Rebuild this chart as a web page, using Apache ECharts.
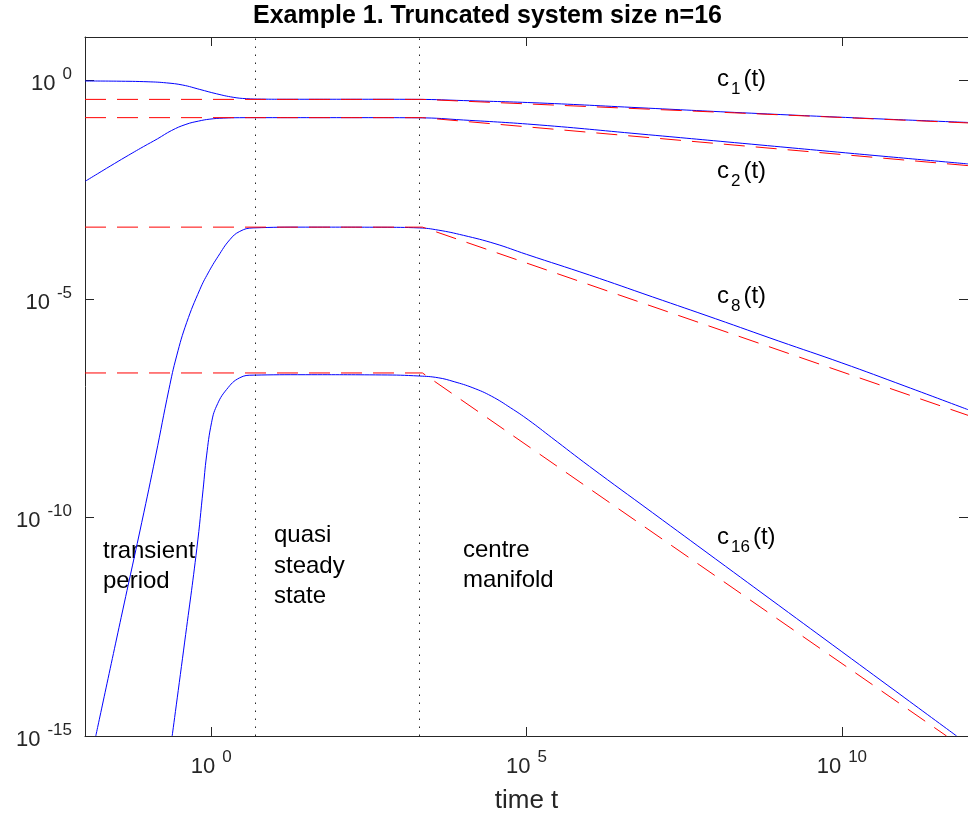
<!DOCTYPE html>
<html>
<head>
<meta charset="utf-8">
<script src="https://cdn.jsdelivr.net/npm/echarts@6/dist/echarts.min.js"></script>
<style>
html,body{margin:0;padding:0;background:#fff;}
#chart{width:968px;height:819px;}
</style>
</head>
<body>
<div id="chart"></div>
<script>
// ---- Data: pairs of [log10(t), log10(c)] ----
const c1Solid = [[-2.0,-0.007],[-1.5,-0.011],[-1.0,-0.025],[-0.71,-0.05],[-0.45,-0.10],[-0.18,-0.20],[0.085,-0.30],[0.35,-0.38],[0.56,-0.412],[0.8,-0.422],[1.2,-0.425],[2.5,-0.425],[3.3,-0.428],[4.0,-0.455],[5.2,-0.51],[6.8,-0.62],[8.43,-0.735],[10.2,-0.85],[12.0,-0.956]];
const c2Solid = [[-1.994,-2.30],[-1.80,-2.13],[-1.60,-1.955],[-1.35,-1.74],[-1.074,-1.51],[-0.85,-1.33],[-0.627,-1.14],[-0.40,-1.00],[-0.20,-0.925],[-0.02,-0.88],[0.2,-0.856],[0.45,-0.847],[0.7,-0.846],[2.5,-0.846],[3.3,-0.850],[4.0,-0.90],[5.2,-1.013],[6.8,-1.22],[8.43,-1.435],[10.2,-1.67],[12.0,-1.905]];
const c8Solid = [[-1.829,-15.0],[-1.427,-12.29],[-1.10,-10.11],[-0.88,-8.59],[-0.67,-7.07],[-0.547,-6.30],[-0.389,-5.54],[-0.179,-4.78],[-0.047,-4.40],[0.111,-4.02],[0.296,-3.64],[0.454,-3.45],[0.665,-3.37],[1.5,-3.352],[2.7,-3.355],[3.3,-3.37],[3.6,-3.42],[4.0,-3.54],[4.5,-3.73],[5.0,-3.975],[6.0,-4.45],[7.0,-4.95],[8.0,-5.45],[9.0,-5.96],[10.0,-6.46],[11.0,-6.99],[12.0,-7.53]];
const c16Solid = [[-0.618,-15.0],[-0.42,-12.85],[-0.226,-10.70],[-0.127,-9.35],[-0.073,-8.59],[0.006,-7.83],[0.085,-7.45],[0.244,-7.07],[0.454,-6.80],[0.665,-6.74],[1.5,-6.73],[2.7,-6.735],[3.3,-6.76],[3.6,-6.80],[3.853,-6.89],[4.15,-7.03],[4.443,-7.22],[4.75,-7.49],[5.035,-7.77],[5.4,-8.17],[6.0,-8.83],[7.0,-9.89],[8.0,-10.95],[9.0,-12.01],[10.0,-13.07],[11.0,-14.13],[11.82,-15.0]];

const c1Approx = [[-2,-0.428],[3.35,-0.428],[12,-0.967]];
const c2Approx = [[-2,-0.846],[3.35,-0.846],[12,-1.944]];
const c8Approx = [[-2,-3.352],[3.35,-3.352],[12,-7.66]];
const c16Approx = [[-2,-6.69],[3.35,-6.69],[11.66,-15.0]];

const regionBounds = [5, 2000];           // dotted vertical lines (t values)
const xTickValues = [1, 1e5, 1e10];
const yTickValues = [1e-15, 1e-10, 1e-5, 1];
const curveIndices = ['1', '2', '8', '16'];
const regionTexts = ['transient\nperiod', 'quasi\nsteady\nstate', 'centre\nmanifold'];
const titleText = 'Example 1. Truncated system size n=16';
const xName = 'time t';

// ---- Layout / style ----
const FONT = 'Liberation Sans';
const AXC = '#262626';
const curveLabelY = [82.3, 174.5, 299.3, 540.3];
const regionPos = [[103, 536], [274, 520.5], [463, 535]];

function toPoints(arr) { return arr.map(p => [Math.pow(10, p[0]), Math.pow(10, p[1])]); }
function supFmt(v) { const e = Math.round(Math.log10(v)); return '{b|10}{s|' + e + '}'; }

const tickRich = {
  b: { fontFamily: FONT, fontSize: 22, lineHeight: 22, color: AXC, verticalAlign: 'bottom' },
  s: { fontFamily: FONT, fontSize: 17, lineHeight: 29, color: AXC, verticalAlign: 'top', padding: [0, 0, 12, 7] }
};

const chart = echarts.init(document.getElementById('chart'), null, { renderer: 'canvas' });

function solid(name, arr, extra) {
  return Object.assign({
    name, type: 'line', data: toPoints(arr), showSymbol: false, symbol: 'none',
    smooth: 0.45, lineStyle: { color: '#0000ff', width: 1 }, z: 3, silent: true
  }, extra || {});
}
function dashed(name, arr) {
  return {
    name, type: 'line', data: toPoints(arr), showSymbol: false, symbol: 'none',
    lineStyle: { color: '#ff0000', width: 1, type: [21, 11] }, z: 4, silent: true
  };
}

const option = {
  animation: false,
  backgroundColor: '#ffffff',
  title: {
    text: titleText, left: 253, top: 4, padding: 0,
    textStyle: { fontFamily: FONT, fontSize: 25, fontWeight: 'bold', color: '#000' }
  },
  grid: { left: 85, right: -2, top: 37, bottom: 82, containLabel: false },
  xAxis: [
    {
      type: 'log', logBase: 10, min: 0.01, max: 1e12, position: 'bottom',
      name: xName, nameLocation: 'middle', nameGap: 52,
      nameTextStyle: { fontFamily: FONT, fontSize: 26, color: AXC },
      axisLine: { show: true, onZero: false, lineStyle: { color: AXC, width: 1 } },
      axisTick: { show: true, inside: true, length: 9, customValues: xTickValues, lineStyle: { color: AXC } },
      minorTick: { show: false },
      axisLabel: { show: true, customValues: xTickValues, formatter: supFmt, rich: tickRich, margin: 13 },
      splitLine: { show: false }
    },
    {
      type: 'log', logBase: 10, min: 0.01, max: 1e12, position: 'top',
      axisLine: { show: true, onZero: false, lineStyle: { color: AXC, width: 1 } },
      axisTick: { show: true, inside: true, length: 9, customValues: xTickValues, lineStyle: { color: AXC } },
      axisLabel: { show: false }, splitLine: { show: false }
    }
  ],
  yAxis: [
    {
      type: 'log', logBase: 10, min: 1e-15, max: 10, position: 'left',
      axisLine: { show: true, onZero: false, lineStyle: { color: AXC, width: 1 } },
      axisTick: { show: true, inside: true, length: 9, customValues: yTickValues, lineStyle: { color: AXC } },
      minorTick: { show: false },
      axisLabel: { show: true, customValues: yTickValues, formatter: supFmt, rich: tickRich, margin: 13 },
      splitLine: { show: false }
    },
    {
      type: 'log', logBase: 10, min: 1e-15, max: 10, position: 'right',
      axisLine: { show: true, onZero: false, lineStyle: { color: AXC, width: 1 } },
      axisTick: { show: true, inside: true, length: 9, customValues: yTickValues, lineStyle: { color: AXC } },
      axisLabel: { show: false }, splitLine: { show: false }
    }
  ],
  series: [
    solid('c1', c1Solid, {
      markLine: {
        silent: true, symbol: ['none', 'none'], label: { show: false },
        lineStyle: { color: AXC, width: 1, type: [1.5, 6.5] },
        data: regionBounds.map(v => ({ xAxis: v }))
      }
    }),
    solid('c2', c2Solid),
    solid('c8', c8Solid),
    solid('c16', c16Solid),
    dashed('c1 approx', c1Approx),
    dashed('c2 approx', c2Approx),
    dashed('c8 approx', c8Approx),
    dashed('c16 approx', c16Approx)
  ],
  graphic: [
    ...curveIndices.map((n, i) => ({
      type: 'text', x: 717, y: curveLabelY[i], silent: true,
      style: {
        text: '{b|c}{s|' + n + '}{b|(t)}', align: 'left', verticalAlign: 'middle',
        rich: {
          b: { fontFamily: FONT, fontSize: 24, lineHeight: 24, fill: '#000', verticalAlign: 'top' },
          s: { fontFamily: FONT, fontSize: 17, lineHeight: 30.5, fill: '#000', verticalAlign: 'bottom', padding: [13.5, 3, 0, 2] }
        }
      }
    })),
    ...regionTexts.map((t, i) => ({
      type: 'text', x: regionPos[i][0], y: regionPos[i][1], silent: true,
      style: { text: t, fontFamily: FONT, fontSize: 24, lineHeight: 30.5, fill: '#000', align: 'left', verticalAlign: 'top' }
    }))
  ]
};
chart.setOption(option);
</script>
</body>
</html>
